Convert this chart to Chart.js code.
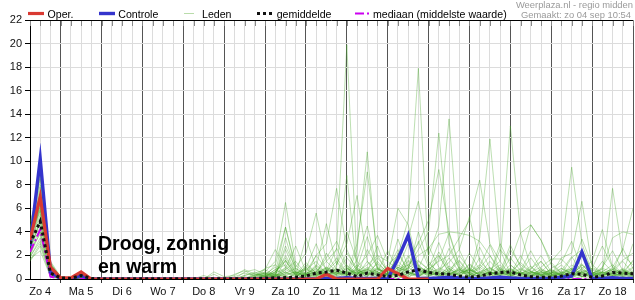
<!DOCTYPE html>
<html><head><meta charset="utf-8">
<script src="https://cdn.jsdelivr.net/npm/chart.js@4/dist/chart.umd.min.js"></script>
<style>html,body{margin:0;padding:0;background:#fff;}#wrap{width:635px;height:300px;}</style>
</head><body><div id="wrap"><canvas id="c" width="635" height="300"></canvas></div>
<script>
// ---- DATA ----
const HOURS = [6,12,18,24,30,36,42,48,54,60,
  66,72,78,84,90,96,102,108,114,120,
  126,132,138,144,150,156,162,168,174,180,
  186,192,198,204,210,216,222,228,234,240,
  246,252,258,264,270,276,282,288,294,300,
  306,312,318,324,330,336,342,348,354,360];
const DAY_LABELS = ['Zo 4','Ma 5','Di 6','Wo 7','Do 8','Vr 9','Za 10','Zo 11','Ma 12','Di 13','Wo 14','Do 15','Vr 16','Za 17','Zo 18'];
const LABEL_HOURS = [12,36,60,84,108,132,156,180,204,228,252,276,300,324,348];
const Y_TICKS_MAX = 22;

const OPER = [3.3,7.0,1.0,0.1,0.1,0.6,0,0,0,0,
  0,0,0,0,0,0,0,0,0,0,
  0,0,0,0,0,0,0,0,0,0.4,
  0,0,0,0,0,0.9,0.45,0,0,0];
const CONTROLE = [2.8,10.2,0.6,0.05,0,0.3,0,0,0,0,
  0,0,0,0,0,0,0,0,0,0,
  0,0,0,0,0,0,0,0,0,0.05,
  0.05,0.1,0.05,0.05,0.05,0,1.7,3.7,0.05,0.05,
  0.1,0.15,0.1,0.05,0.05,0.1,0.15,0.1,0.05,0.05,
  0.05,0.05,0.15,0.25,2.3,0.05,0.05,0.1,0.05,0.05];
const GEMIDDELDE = [3.0,4.9,0.5,0.1,0.05,0.3,0.05,0.03,0.02,0.02,
  0.02,0.02,0.02,0.02,0.02,0.02,0.02,0.02,0.03,0.03,
  0.02,0.03,0.05,0.08,0.1,0.12,0.15,0.25,0.5,0.6,
  0.75,0.5,0.2,0.5,0.35,0.2,0.3,0.6,0.8,0.55,
  0.45,0.4,0.25,0.15,0.25,0.45,0.55,0.6,0.35,0.2,
  0.15,0.15,0.25,0.45,0.4,0.15,0.25,0.55,0.5,0.45];
const MEDIAAN = [2.3,4.2,0.2,0,0,0,0,0,0,0,
  0,0,0,0,0,0,0,0,0,0,
  0,0,0,0,0,0,0,0,0,0,
  0,0,0,0,0,0,0,0,0,0,
  0,0,0,0,0,0,0,0,0,0,
  0,0,0,0,0,0,0,0,0,0];

const MEMBER_01 = [3.5,6.0,0.8,0.1,0,0.2,0,0,0,0,
  0,0,0,0,0,0,0,0,0,0,
  0,0,0.3,0.5,0.2,1.0,0.4,0,0.6,1.5,
  2.5,19.9,1.0,0,0.3,0.8,0.2,0,1.2,0.4,
  0,0.3,0.9,0.2,0,0.5,0,0,0.4,1.1,
  0.3,0,0,0.6,1.0,0.2,0,0.3,0.8,0.2];
const MEMBER_02 = [2.0,4.5,0.5,0,0,0.1,0,0,0,0,
  0,0,0,0,0,0,0,0,0,0,
  0,0,0,0.2,0.8,0.3,0,1.2,0.5,0.2,
  1.0,8.8,0.6,0.2,1.5,0.4,2.0,5.0,17.9,1.5,
  0.4,0,0.2,1.0,0.3,0,0.6,0.2,0,0.5,
  1.5,0.4,0,0,0.2,0.8,0.3,0,0,0.4];
const MEMBER_03 = [4.5,8.5,1.5,0.2,0,0.3,0,0,0,0,
  0,0,0,0,0,0,0,0,0,0,
  0,0,0,0,0.5,4.4,0.8,0,0.3,1.0,
  0.5,0.2,2.5,10.8,1.2,0.3,0,1.5,0.8,0.2,
  2.0,0.5,0,0.3,1.8,0.4,0,0.2,0.6,0,
  0,0.5,1.2,0.3,0,0,0.4,0.9,0.2,0];
const MEMBER_04 = [1.8,3.5,0.3,0,0,0,0,0,0,0,
  0,0,0,0,0,0,0,0,0,0,
  0,0,0,0.1,0.3,0.6,0.2,0.8,1.5,0.4,
  0.8,0.5,3.0,9.1,2.0,0.6,0.3,1.0,2.5,4.0,
  12.4,3.0,0.8,0.2,0,0.4,0.7,0.2,0,0.3,
  0.6,0.2,0,0.4,1.2,0.3,0,0.5,0.2,0.6];
const MEMBER_05 = [3.0,7.0,1.0,0.1,0,0.2,0,0,0,0,
  0,0,0,0,0,0,0,0,0,0,
  0,0.2,0,0,0.4,0.2,0,0.3,0.9,0.3,
  0,0.6,0.2,0.8,0.4,1.2,2.0,3.5,6.6,2.0,
  4.5,13.6,2.5,0.6,0.2,0,0.5,0.9,0.3,0,
  0.2,0.6,0.3,0,0.7,0.4,0,0.2,0.5,1.0];
const MEMBER_06 = [2.5,5.0,0.6,0,0,0.1,0,0,0,0,
  0,0,0,0,0,0,0,0,0,0,
  0,0,0.1,0.4,1.0,0.2,0,0.5,0.2,0.6,
  1.5,0.3,0.8,0.4,0.2,0,0.6,1.8,3.0,5.0,
  9.3,4.0,1.2,0.5,3.5,11.9,2.5,0.4,0,0.3,
  0.8,0.3,0,0.2,0.6,0,0.3,1.0,0.4,0.2];
const MEMBER_07 = [4.0,9.0,1.2,0.2,0,0.4,0,0,0,0,
  0,0,0,0,0,0,0,0,0,0,
  0,0,0,0,0.2,0.8,1.5,0.4,0,0.3,
  0.6,1.2,0.4,0,0.5,0.3,1.0,0.6,0.2,0.8,
  1.5,2.0,3.5,5.0,8.4,3.0,1.5,13.0,3.9,1.0,
  0.3,0,0.5,0.8,0.2,0,0.6,0.4,0,0.3];
const MEMBER_08 = [2.2,6.5,0.9,0,0,0.2,0,0,0,0,
  0,0,0,0,0,0,0,0,0,0,
  0,0,0,0.3,0.2,0,0.5,0.3,0.7,0.2,
  0.4,0.9,0.3,1.5,0.6,0.2,0.5,0.3,1.0,0.6,
  0.2,0.8,0.4,1.2,0.5,0.3,0.9,0.4,1.5,4.6,
  3.3,1.5,2.5,9.5,3.0,0.6,0.2,0.8,0.3,0.5];
const MEMBER_09 = [3.2,4.0,0.4,0,0,0.1,0,0,0,0,
  0,0,0,0,0,0,0,0,0,0,
  0,0,0,0.2,0.6,1.6,0.4,0,0.2,0.9,
  0.3,0,0.7,0.4,1.0,0.3,0.6,0.2,0.5,0.9,
  0.5,0.2,0.6,0.3,0.9,2.0,0.5,0.3,0.6,0.2,
  0.9,0.4,1.8,2.2,6.6,1.0,0.5,7.7,2.0,1.2];
const MEMBER_10 = [1.5,2.8,0.2,0,0,0,0,0,0,0,
  0,0,0,0,0,0,0,0,0,0,
  0,0.3,0.5,0.8,0.3,0.2,0,0.4,1.2,0.5,
  0.2,0.6,0.4,0.9,0.3,0.8,1.5,0.6,0.3,0.2,
  0.7,0.3,1.0,0.5,0.2,0.6,0.3,1.2,0.5,0.3,
  0.4,0.8,0.3,0.2,0.9,1.5,4.2,1.0,2.5,6.0];
const MEMBER_11 = [3.8,7.5,1.0,0.1,0,0.3,0,0,0,0,
  0,0,0,0,0,0,0,0,0,0,
  0,0,0.2,0.6,1.5,6.5,1.2,0.3,2.0,3.0,
  7.7,2.5,0.6,0.2,0.9,0.4,0,0.5,0.3,0.6,
  0.2,0.5,0.3,0.8,0.4,0.2,0.6,0.3,0.2,0.5,
  0.3,0.2,0.6,0.4,0.2,0.3,0.5,0.2,0.6,0.4];
const MEMBER_12 = [2.8,5.5,0.7,0,0,0.2,0,0,0,0,
  0,0,0,0,0,0,0,0,0,0,
  0.2,0.5,0.3,0.9,1.2,4.4,1.0,2.2,5.6,1.5,
  0.6,1.0,0.3,2.5,1.0,0.3,0.8,0.4,0.2,0.7,
  0.4,0.9,0.3,0.2,0.6,0.4,1.0,0.3,0.5,0.2,
  0.6,0.3,0.2,0.8,0.4,0.3,0.6,0.2,0.4,0.9];
const MEMBER_13 = [4.8,8.0,1.3,0.1,0,0.2,0,0,0,0,
  0,0,0,0,0,0,0,0,0,0,
  0,0,0,0.4,0.2,3.5,0.6,0.4,1.0,4.7,
  1.2,3.0,7.1,1.5,0.4,0.2,0.6,0.3,0.9,0.4,
  0.3,0.6,1.5,0.4,0.2,0.7,0.3,0.5,0.9,0.3,
  0.2,0.5,0.3,0.6,0.2,0.4,0.3,0.6,0.8,0.3];
const MEMBER_14 = [2.0,4.0,0.5,0,0,0.1,0,0,0,0,
  0,0,0,0,0,0,0,0,0,0,
  0,0,0,0,0.3,2.5,0.5,0.8,0.4,0.3,
  0.9,0.4,0.6,1.2,2.0,1.5,6.0,4.6,1.0,0.5,
  0.8,1.4,2.5,5.3,1.5,0.6,0.3,0.8,0.4,0.2,
  0.5,0.7,0.3,0.2,0.6,0.3,0.2,0.5,0.3,0.6];
const MEMBER_15 = [3.4,6.8,1.1,0.1,0,0.2,0,0,0,0,
  0,0,0,0,0,0,0,0,0,0,
  0,0,0.4,0.3,0.1,1.6,0.3,0.5,0.8,0.4,
  0.3,0.7,0.5,0.4,0.8,0.6,0.4,2.0,0.6,0.3,
  0.6,0.4,0.8,0.5,1.0,0.4,2.5,1.5,3.9,4.6,
  3.3,1.2,0.5,0.3,0.8,0.4,0.3,0.6,0.5,0.4];
const MEMBER_16 = [1.6,3.0,0.3,0,0,0.1,0,0,0,0,
  0,0,0,0,0,0,0,0,0,0,
  0,0.6,0.8,0.4,0.2,0.5,0.9,0.3,0.6,0.4,
  0.5,0.3,1.0,2.0,3.7,1.5,0.8,1.2,2.0,2.6,
  3.8,4.0,3.9,3.7,3.2,2.0,0.8,0.5,0.3,0.6,
  0.4,0.3,0.6,0.9,0.5,0.3,0.5,0.4,0.7,0.3];
const MEMBER_17 = [3.6,5.8,0.8,0,0,0.3,0,0,0,0,
  0,0,0,0,0,0,0,0,0,0,
  0,0,0,0.2,0.4,0.3,0.6,0.2,0.4,0.8,
  0.4,0.6,0.2,0.7,0.5,0.9,0.4,0.6,1.5,0.8,
  0.3,0.5,0.7,0.2,0.6,0.9,0.4,2.5,1.2,0.6,
  1.0,1.7,1.7,0.8,0.5,0.4,0.9,3.5,4.0,3.8];
const MEMBER_18 = [2.6,4.8,0.6,0,0,0.2,0,0,0,0,
  0,0,0,0,0,0,0,0,0,0,
  0,0,0.3,0.6,0.4,2.0,0.5,0.9,0.3,0.6,
  1.8,0.5,0.4,0.6,0.3,0.5,0.7,0.9,1.6,0.8,
  1.6,3.9,1.0,0.4,0.2,0.6,0.3,0.9,0.4,0.7,
  0.3,0.6,0.4,1.8,2.5,0.6,0.3,0.5,0.2,0.4];
const MEMBER_19 = [4.2,7.8,1.4,0.1,0,0.3,0,0,0,0,
  0,0,0,0,0,0,0,0,0,0,
  0,0,0,0.3,0.6,1.5,0.3,0.6,2.0,0.8,
  0.4,1.8,0.8,0.3,0.6,0.3,0.5,1.2,0.7,0.4,
  0.9,0.3,0.5,0.8,0.3,0.6,0.2,0.4,0.6,1.8,
  0.6,0.3,0.5,0.3,1.2,0.4,0.6,0.3,0.9,0.4];
const MEMBER_20 = [1.9,3.2,0.4,0,0,0.1,0,0,0,0,
  0,0,0,0,0,0,0,0,0,0,
  0.4,0.7,0.2,0.5,0.3,0.8,0.4,1.0,0.4,0.6,
  0.8,0.3,1.2,0.5,0.4,0.9,2.5,0.5,0.3,0.6,
  0.4,0.7,0.3,0.6,1.2,0.5,0.3,0.6,0.4,0.9,
  1.5,0.4,0.3,0.6,0.4,0.2,0.9,0.6,1.5,0.5];
const MEMBER_21 = [3.3,6.2,0.9,0,0,0.2,0,0,0,0,
  0,0,0,0,0,0,0,0,0,0,
  0,0,0,0,0.2,0.4,0.6,0.3,0.5,1.0,
  0.6,0.4,0.8,0.3,0.9,0.4,0.3,0.6,0.4,1.2,
  2.0,0.6,0.3,0.9,0.4,0.8,1.5,0.3,0.6,0.4,
  0.3,0.8,0.4,0.3,0.6,0.9,0.4,0.3,0.6,1.5];
const MEMBER_22 = [2.4,3.8,0.3,0,0,0.1,0,0,0,0,
  0,0,0,0,0,0,0,0,0.4,0,
  0,0,0.5,0.2,0.8,1.2,0.4,0.2,0.3,0.5,
  0.4,0.9,0.5,0.8,0.6,0.3,1.0,0.5,0.9,0.3,
  0.5,0.3,0.8,0.4,0.5,1.0,0.4,0.8,0.3,0.6,
  0.4,0.5,0.9,0.4,0.3,0.5,0.8,0.3,0.4,0.7];
const MEMBER_23 = [2.1,5.2,0.7,0,0,0.2,0,0,0,0,
  0,0,0,0,0,0,0,0,0,0,
  0,0,0.2,0.8,2.5,1.0,0.3,3.5,0.9,0.4,
  1.2,4.0,1.5,0.6,2.8,0.5,0.3,0.9,3.2,1.0,
  0.5,1.8,0.6,2.2,0.8,0.4,3.0,1.2,0.5,0.8,
  2.0,0.6,0.3,1.2,0.5,0.9,2.8,1.0,0.4,1.6];
const MEMBER_24 = [3.9,8.8,1.1,0.1,0,0.3,0,0,0,0,
  0,0,0,0,0,0,0,0,0,0,
  0,0,0,0.3,0.5,0.9,2.8,0.6,0.3,2.2,
  0.8,0.4,1.6,4.5,0.9,0.3,2.2,0.7,4.0,1.3,
  0.6,2.6,0.9,0.3,1.1,2.9,0.7,0.4,2.0,0.6,
  0.3,0.9,1.4,3.2,0.8,0.4,1.0,2.4,0.7,0.5];
const MEMBER_25 = [2.7,5.9,0.5,0,0,0.1,0,0,0,0,
  0,0,0,0,0,0,0,0.3,0,0,
  0,0.3,0.6,0.2,1.2,0.5,0.2,0.9,3.0,0.7,
  2.6,0.9,0.4,1.0,0.6,2.4,0.8,3.0,1.1,0.6,
  2.3,0.8,1.6,0.5,2.7,0.9,0.4,1.8,0.7,2.4,
  0.8,0.4,0.7,1.9,0.6,0.3,1.5,0.6,2.6,0.9];
const MEMBER_26 = [3.1,6.4,0.8,0,0,0.2,0,0,0,0,
  0,0,0,0,0,0,0,0,0,0,
  0,0,0.1,0.5,0.3,2.8,0.9,0.4,0.6,1.8,
  3.2,1.1,0.5,0.8,1.8,0.7,0.4,1.6,0.9,2.8,
  1.0,0.5,2.0,0.8,0.4,1.5,0.6,2.9,1.0,0.4,
  0.6,1.4,0.5,0.7,3.4,1.2,0.5,0.8,1.6,2.2];
const MEMBER_27 = [4.4,7.2,1.3,0.1,0,0.3,0,0,0,0,
  0,0,0,0,0,0,0,0,0,0,
  0,0,0,0,0.2,0.6,0.3,1.4,0.5,0.9,
  0.5,2.2,0.9,3.6,0.8,0.4,1.2,0.6,0.3,0.9,
  3.1,0.9,0.4,1.3,0.6,0.3,0.8,0.5,1.4,0.6,
  0.4,0.3,0.9,0.5,1.3,0.4,0.6,1.2,0.5,3.0];
const MEMBER_28 = [1.7,2.4,0.2,0,0,0.1,0,0,0,0,
  0,0,0,0,0,0,0,0,0.6,0.2,
  0.3,0.8,0.4,0.2,0.6,1.8,0.5,0.3,1.1,0.4,
  0.6,0.3,0.9,0.5,1.3,0.6,3.4,1.0,0.4,0.7,
  0.3,1.1,0.5,0.8,0.3,0.6,1.2,0.4,0.8,0.5,
  0.7,0.3,0.5,0.9,0.4,0.6,0.3,0.8,0.5,0.3];
const LEDEN = [MEMBER_01,MEMBER_02,MEMBER_03,MEMBER_04,MEMBER_05,MEMBER_06,MEMBER_07,MEMBER_08,MEMBER_09,MEMBER_10,
  MEMBER_11,MEMBER_12,MEMBER_13,MEMBER_14,MEMBER_15,MEMBER_16,MEMBER_17,MEMBER_18,MEMBER_19,MEMBER_20,
  MEMBER_21,MEMBER_22,MEMBER_23,MEMBER_24,MEMBER_25,MEMBER_26,MEMBER_27,MEMBER_28];

const LEGEND_TEXT = ['Oper.','Controle','Leden','gemiddelde','mediaan (middelste waarde)'];
const SOURCE_TEXT = ['Weerplaza.nl - regio midden','Gemaakt: zo 04 sep 10:54'];
const NOTE_TEXT = ['Droog, zonnig','en warm'];

// ---- STYLES ----
const FONT = '"Liberation Sans", Arial, sans-serif';
const ST = {
  oper:{color:'#d93a32', width:3.2, dash:[]},
  ctrl:{color:'#3434cc', width:3.4, dash:[]},
  leden:{color:'rgba(70,165,40,0.36)', legend:'#b9dcaa', width:1, dash:[]},
  mean:{color:'#111', width:3, dash:[3,3]},
  med:{color:'#cc00f0', width:2, dash:[9,3,2,3]}
};
const pts = arr => arr.map((v,i)=>({x:HOURS[i], y:v}));
function ds(label, arr, st){
  return {label, data:pts(arr), borderColor:st.color, borderWidth:st.width, borderDash:st.dash,
    borderCapStyle:'butt', borderJoinStyle:'miter', pointRadius:0, fill:false, tension:0};
}
const datasets = [
  ds(LEGEND_TEXT[3], GEMIDDELDE, ST.mean),
  ds(LEGEND_TEXT[0], OPER, ST.oper),
  ds(LEGEND_TEXT[1], CONTROLE, ST.ctrl),
  ds(LEGEND_TEXT[4], MEDIAAN, ST.med),
  ...LEDEN.map(m => ds(LEGEND_TEXT[2], m, ST.leden))
];

// ---- PLUGINS ----
const framePlugin = {
  id:'frame',
  beforeDatasetsDraw(chart){
    const {ctx, chartArea:a, scales:{x}} = chart;
    ctx.save();
    ctx.strokeStyle = '#888'; ctx.lineWidth = 1;
    x.ticks.forEach(t => {
      const px = Math.round(x.getPixelForValue(t.value)) + 0.5;
      ctx.beginPath(); ctx.moveTo(px, a.top); ctx.lineTo(px, a.top + 6); ctx.stroke();
    });
    ctx.strokeStyle = '#000';
    ctx.beginPath(); ctx.moveTo(a.left, a.top + 0.5); ctx.lineTo(a.right, a.top + 0.5); ctx.stroke();
    ctx.restore();
  }
};
const legendPlugin = {
  id:'customLegend',
  afterDraw(chart){
    const ctx = chart.ctx;
    ctx.save();
    const items = [
      {st:ST.oper, x0:28, x1:44, tx:47.5},
      {st:ST.ctrl, x0:99, x1:115, tx:118.3},
      {st:{color:ST.leden.legend, width:1, dash:[]}, x0:184, x1:194, tx:202},
      {st:ST.mean, x0:257, x1:272, tx:276.7},
      {st:ST.med, x0:355, x1:369, tx:373}
    ];
    const ly = 13.5;
    items.forEach((it,i) => {
      ctx.strokeStyle = it.st.color; ctx.lineWidth = it.st.width;
      ctx.setLineDash(it.st.dash); ctx.lineCap='butt';
      ctx.beginPath(); ctx.moveTo(it.x0, ly); ctx.lineTo(it.x1, ly); ctx.stroke();
      ctx.setLineDash([]);
      ctx.fillStyle = '#000'; ctx.font = '10.6px ' + FONT; ctx.textBaseline='alphabetic'; ctx.textAlign='left';
      ctx.fillText(LEGEND_TEXT[i], it.tx, 17.5);
    });
    ctx.fillStyle = '#9a9a9a'; ctx.font = '9.4px ' + FONT; ctx.textAlign='right';
    ctx.fillText(SOURCE_TEXT[0], 633, 7.5);
    ctx.fillText(SOURCE_TEXT[1], 631, 17.6);
    ctx.restore();
  }
};
const notePlugin = {
  id:'note',
  afterDatasetsDraw(chart){
    const ctx = chart.ctx;
    ctx.save();
    ctx.fillStyle = '#000'; ctx.font = 'bold 19.5px ' + FONT;
    ctx.textAlign='left'; ctx.textBaseline='alphabetic';
    ctx.fillText(NOTE_TEXT[0], 98, 250);
    ctx.fillText(NOTE_TEXT[1], 98, 272.5);
    ctx.restore();
  }
};

new Chart(document.getElementById('c'), {
  type:'line',
  data:{datasets},
  options:{
    responsive:false, animation:false, devicePixelRatio:1,
    layout:{padding:{top:20, right:0, left:0, bottom:0}},
    plugins:{legend:{display:false}, tooltip:{enabled:false}, title:{display:false}},
    scales:{
      x:{type:'linear', min:6, max:360,
        ticks:{stepSize:6, autoSkip:false, maxRotation:0, minRotation:0, padding:2, color:'#111',
          font:{family:FONT, size:11},
          callback:(v)=>{const k = LABEL_HOURS.indexOf(v); return k>=0 ? DAY_LABELS[k] : '';}},
        grid:{color:c => (c.tick && c.tick.value % 24 === 0) ? '#555' : '#dcdcdc', lineWidth:1,
          tickLength:4, tickColor:c => (c.tick && c.tick.value % 24 === 0) ? '#333' : 'rgba(0,0,0,0)'},
        border:{display:true, color:'#000', width:1},
        afterFit:s => { s.height = 21; }
      },
      y:{min:0, max:Y_TICKS_MAX,
        ticks:{stepSize:2, padding:3, color:'#111', font:{family:FONT, size:11}},
        grid:{color:'#dcdcdc', lineWidth:1, tickLength:5, tickColor:'#000'},
        border:{display:true, color:'#000', width:1},
        afterFit:s => { s.width = 30; }
      }
    }
  },
  plugins:[framePlugin, notePlugin, legendPlugin]
});
</script></body></html>
